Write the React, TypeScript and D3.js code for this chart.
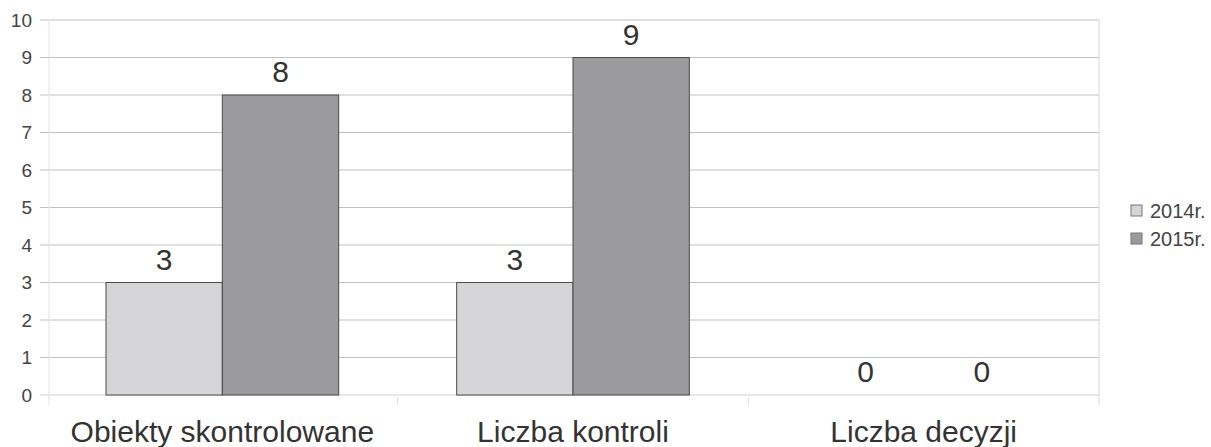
import React from "react";
import * as d3 from "d3";

const categories = ["Obiekty skontrolowane", "Liczba kontroli", "Liczba decyzji"];
const seriesNames = ["2014r.", "2015r."];
const values2014 = [3, 3, 0];
const values2015 = [8, 9, 0];
const yTicks = [0, 1, 2, 3, 4, 5, 6, 7, 8, 9, 10];

const W = 1211;
const H = 447;
const plot = { left: 47, right: 1099, top: 20, bottom: 395 };
const colors = ["#d5d5d8", "#9b9b9d"];
const FONT = "'Liberation Sans', Arial, sans-serif";

export default function App() {
  const x0 = d3.scaleBand<string>().domain(categories).range([plot.left, plot.right]).padding(0);
  const step = x0.bandwidth();
  const gap = 59;
  const x1 = d3.scaleBand<string>().domain(seriesNames).range([gap, step - gap]).padding(0);
  const y = d3.scaleLinear().domain([0, 10]).range([plot.bottom, plot.top]);

  const seriesValues = [values2014, values2015];

  return (
    <svg width={W} height={H} style={{ display: "block", position: "absolute", left: 0, top: 0, background: "#fff" }}>
      {/* horizontal gridlines */}
      {yTicks.map((t) => (
        <line key={"g" + t} x1={40} x2={plot.right} y1={y(t)} y2={y(t)} stroke={t === 0 ? "#d0d0d0" : "#c2c2c2"} strokeWidth={1} />
      ))}
      {/* faint frame lines */}
      <line x1={49} x2={49} y1={plot.top} y2={plot.bottom + 10} stroke="#e2e2e2" />
      <line x1={plot.right} x2={plot.right} y1={plot.top} y2={plot.bottom + 10} stroke="#d8d8d8" />
      {/* category separators */}
      {categories.slice(1).map((c) => (
        <line key={"s" + c} x1={x0(c)!} x2={x0(c)!} y1={plot.bottom + 2} y2={plot.bottom + 9} stroke="#dcdcdc" />
      ))}
      {/* y tick labels */}
      {yTicks.map((t) => (
        <text key={"t" + t} x={32} y={y(t)} dy="0.35em" textAnchor="end" fontFamily={FONT} fontSize={19} fill="#444">
          {t}
        </text>
      ))}
      {/* bars */}
      {categories.map((c, ci) =>
        seriesNames.map((s, si) => {
          const v = seriesValues[si][ci];
          const bx = x0(c)! + x1(s)!;
          const bw = x1.bandwidth();
          return (
            <g key={c + s}>
              {v > 0 && (
                <rect x={bx} y={y(v)} width={bw} height={y(0) - y(v)} fill={colors[si]} stroke="#4a4a4a" strokeWidth={1} />
              )}
              <text x={bx + bw / 2} y={y(v) - 13} textAnchor="middle" fontFamily={FONT} fontSize={30} fill="#333">
                {v}
              </text>
            </g>
          );
        })
      )}
      {/* category labels */}
      {categories.map((c) => (
        <text key={"c" + c} x={x0(c)! + step / 2} y={442} textAnchor="middle" fontFamily={FONT} fontSize={30} fill="#333">
          {c}
        </text>
      ))}
      {/* legend */}
      {seriesNames.map((s, i) => (
        <g key={"l" + s} transform={`translate(1131, ${205 + i * 28})`}>
          <rect x={0} y={0} width={11} height={11} fill={colors[i]} stroke="#777" strokeWidth={1} />
          <text x={19} y={6} dy="0.35em" fontFamily={FONT} fontSize={20} fill="#444">
            {s}
          </text>
        </g>
      ))}
    </svg>
  );
}
